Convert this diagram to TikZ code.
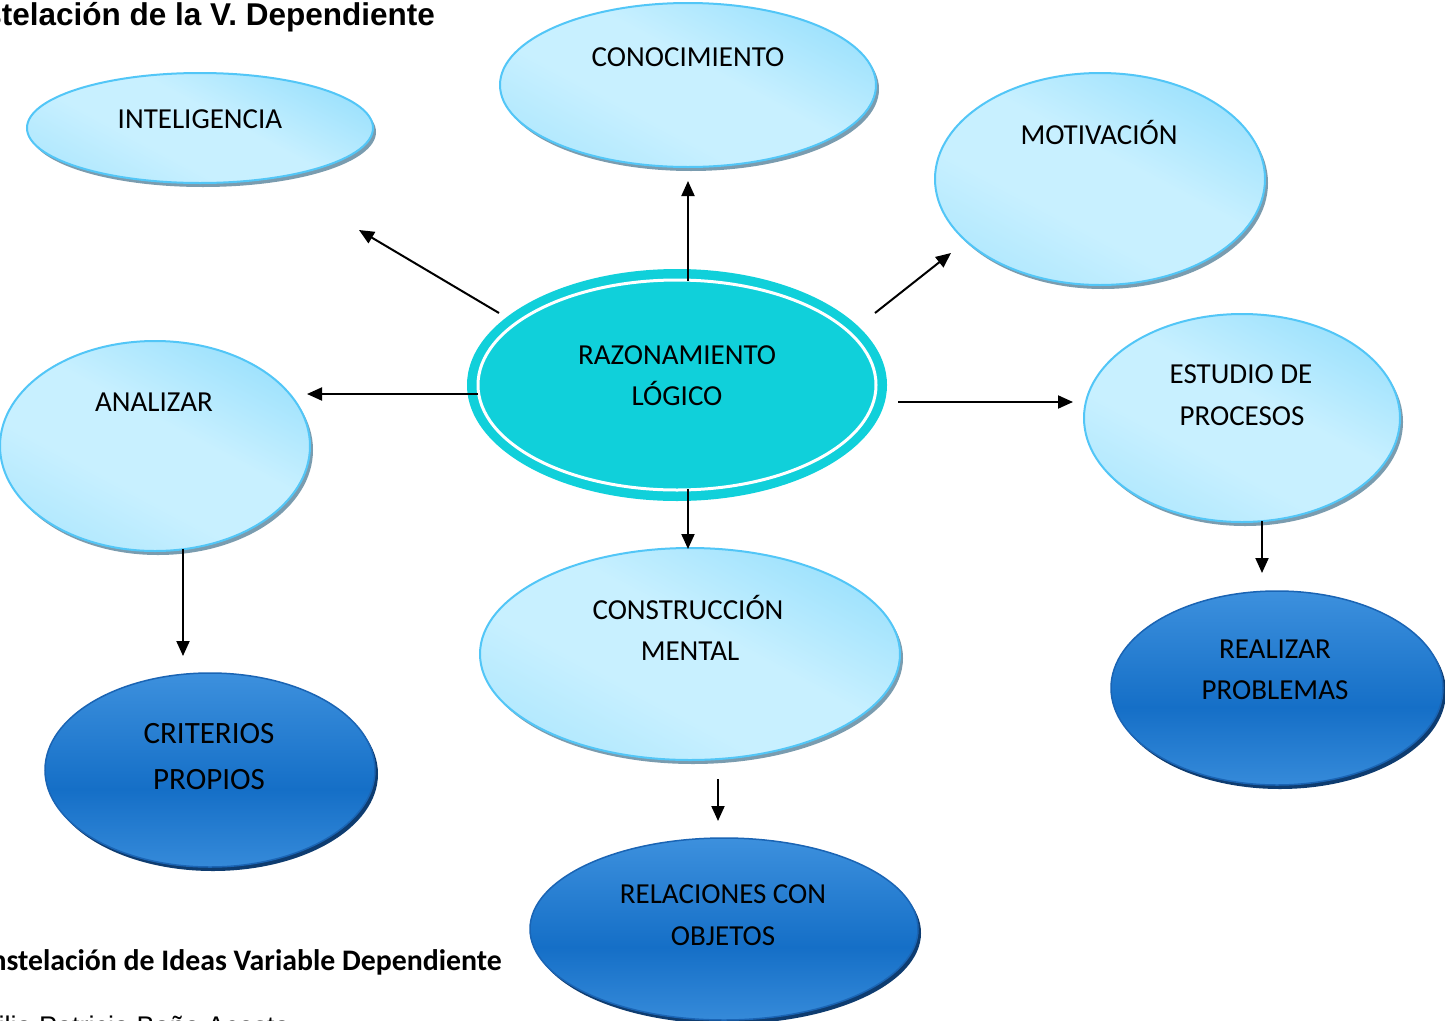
\documentclass[tikz,border=0pt]{standalone}
\usepackage{fontspec}
\setmainfont{Carlito}
\newfontfamily\arialfont{Liberation Sans}
\usetikzlibrary{shapes.geometric,shadows,arrows.meta}
\definecolor{lbDark}{HTML}{6AD0FA}
\definecolor{lbMid}{HTML}{8EDCFC}
\definecolor{lbLight}{HTML}{C8F0FF}
\definecolor{lbBorder}{HTML}{52C6F7}
\definecolor{lbShadow}{HTML}{7A9CAF}
\definecolor{dbLight}{HTML}{5EACF0}
\definecolor{dbDark}{HTML}{156FC7}
\definecolor{dbBorder}{HTML}{1A64B4}
\definecolor{dbShadow}{HTML}{0E3C70}
\definecolor{cyanC}{HTML}{10D0DA}
\pgfdeclarehorizontalshading{lbshade}{100bp}{color(0bp)=(lbMid); color(40bp)=(lbLight); color(55bp)=(lbLight); color(100bp)=(lbDark)}
\pgfdeclareverticalshading{dbshade}{100bp}{color(0bp)=(dbLight); color(45bp)=(dbDark); color(100bp)=(dbLight)}
\tikzset{
  lball/.style={ellipse, inner sep=0pt, draw=lbBorder, line width=2pt, shading=lbshade, shading angle=62,
    drop shadow={shadow xshift=3pt, shadow yshift=-4pt, fill=lbShadow, opacity=1}},
  dball/.style={ellipse, inner sep=0pt, draw=dbBorder, line width=1.5pt, shading=dbshade,
    drop shadow={shadow xshift=3pt, shadow yshift=-4pt, fill=dbShadow, opacity=1}},
  lbl/.style={anchor=base, inner sep=0pt, font=\fontsize{29}{35}\selectfont},
  lblbig/.style={anchor=base, inner sep=0pt, font=\fontsize{31}{37}\selectfont},
  arr/.style={line width=2pt, -{Triangle[length=15pt,width=13pt]}}
}
\begin{document}
\begin{tikzpicture}[x=1pt,y=-1pt]
\clip (0,0) rectangle (1445,1020);
\fill[white] (0,0) rectangle (1445,1020);

% light ellipses
\node[lball, minimum width=376pt, minimum height=164pt] (con) at (688,85) {};
\node[lball, minimum width=346pt, minimum height=110pt] (int) at (200,128) {};
\node[lball, minimum width=330pt, minimum height=212pt] (mot) at (1100,179) {};
\node[lball, minimum width=310pt, minimum height=210pt] (ana) at (155,446) {};
\node[lball, minimum width=316pt, minimum height=208pt] (est) at (1242,418) {};
\node[lball, minimum width=420pt, minimum height=212pt] (cons) at (690,654) {};

% dark ellipses
\node[dball, minimum width=330pt, minimum height=194pt] (cri) at (210,770) {};
\node[dball, minimum width=332pt, minimum height=194pt] (rea) at (1277,688) {};
\node[dball, minimum width=388pt, minimum height=182pt] (rel) at (724,929) {};

% central ellipse
\node[ellipse, inner sep=0pt, fill=cyanC, minimum width=420pt, minimum height=232pt] (raz) at (677,385) {};
\node[ellipse, inner sep=0pt, draw=white, line width=3pt, minimum width=398pt, minimum height=210pt] (razin) at (677,385) {};

% texts
\node[lbl] (conT) at (688,66) {CONOCIMIENTO};
\node[lbl] (intT) at (200,128) {INTELIGENCIA};
\node[lbl] (motT) at (1099,144) {MOTIVACIÓN};
\node[lbl] (razT1) at (677,364) {RAZONAMIENTO};
\node[lbl] (razT2) at (677,405) {LÓGICO};
\node[lbl] (anaT) at (154,411) {ANALIZAR};
\node[lbl] (estT1) at (1241,383) {ESTUDIO DE};
\node[lbl] (estT2) at (1242,425) {PROCESOS};
\node[lbl] (consT1) at (688,619) {CONSTRUCCIÓN};
\node[lbl] (consT2) at (690,660) {MENTAL};
\node[lblbig] (criT1) at (209,743) {CRITERIOS};
\node[lblbig] (criT2) at (209,789) {PROPIOS};
\node[lbl] (reaT1) at (1275,658) {REALIZAR};
\node[lbl] (reaT2) at (1275,699) {PROBLEMAS};
\node[lbl] (relT1) at (723,903) {RELACIONES CON};
\node[lbl] (relT2) at (723,945) {OBJETOS};

% arrows
\coordinate (c1s) at (688,281); \coordinate (c1e) at (688,181);
\coordinate (c2s) at (499,313); \coordinate (c2e) at (359,230);
\coordinate (c3s) at (875,313); \coordinate (c3e) at (951,253);
\coordinate (c4s) at (478,394); \coordinate (c4e) at (307,394);
\coordinate (c5s) at (898,402); \coordinate (c5e) at (1073,402);
\coordinate (c6s) at (688,489); \coordinate (c6e) at (688,549);
\coordinate (c7s) at (183,549); \coordinate (c7e) at (183,656);
\coordinate (c8s) at (1262,521); \coordinate (c8e) at (1262,573);
\coordinate (c9s) at (718,779); \coordinate (c9e) at (718,821);
\draw[arr] (c1s) -- (c1e);
\draw[arr] (c2s) -- (c2e);
\draw[arr] (c3s) -- (c3e);
\draw[arr] (c4s) -- (c4e);
\draw[arr] (c5s) -- (c5e);
\draw[arr] (c6s) -- (c6e);
\draw[arr] (c7s) -- (c7e);
\draw[arr] (c8s) -- (c8e);
\draw[arr] (c9s) -- (c9e);

% captions
\node[anchor=base east, inner sep=0pt, font=\arialfont\bfseries\fontsize{31.5}{36}\selectfont] (title) at (435,25) {Constelación de la V. Dependiente};
\node[anchor=base east, inner sep=0pt, font=\bfseries\fontsize{29.8}{34}\selectfont] (caption) at (502,970) {Constelación de Ideas Variable Dependiente};
\node[anchor=base east, inner sep=0pt, font=\arialfont\fontsize{27}{32}\selectfont] (author) at (290,1035) {Emilia Patricia Baño Acosta};
\end{tikzpicture}
\end{document}
